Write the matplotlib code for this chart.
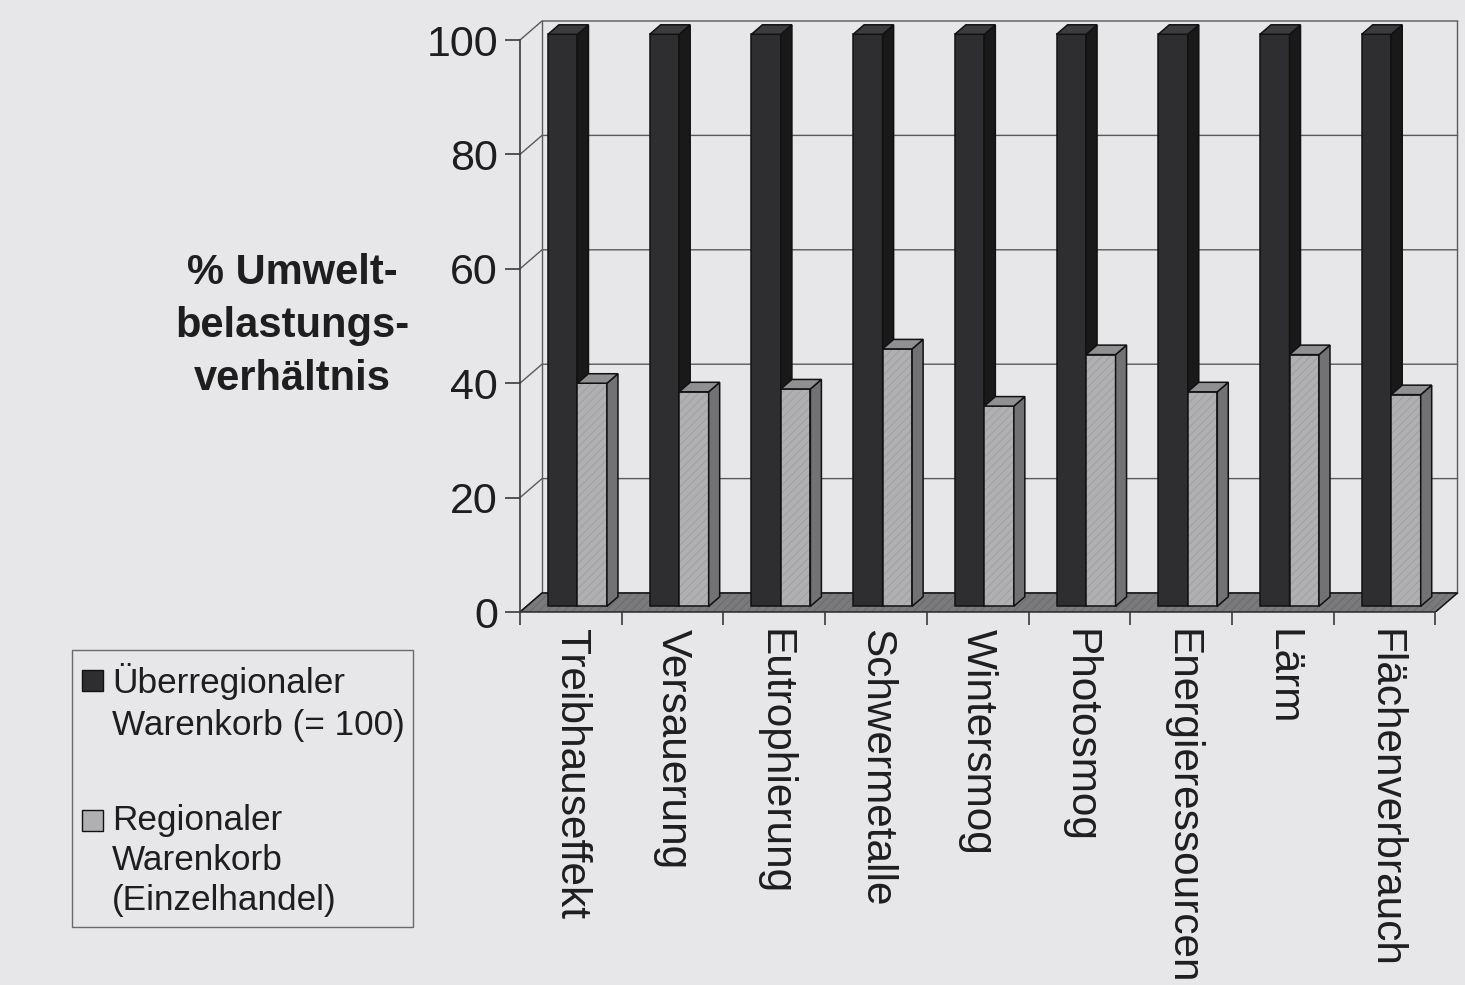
import matplotlib
matplotlib.use("Agg")
import matplotlib.pyplot as plt
from matplotlib.patches import Polygon, Rectangle

plt.rcParams['font.family'] = ['Liberation Sans', 'DejaVu Sans']
plt.rcParams['hatch.linewidth'] = 0.7

# ---- data -------------------------------------------------------------
categories = ["Treibhauseffekt", "Versauerung", "Eutrophierung", "Schwermetalle",
              "Wintersmog", "Photosmog", "Energieressourcen", "Lärm",
              "Flächenverbrauch"]
ueberregional = [100, 100, 100, 100, 100, 100, 100, 100, 100]
regional = [39, 37.5, 38, 45, 35, 44, 37.5, 44, 37]
series_labels = ["Überregionaler\nWarenkorb (= 100)",
                 "Regionaler\nWarenkorb\n(Einzelhandel)"]
y_ticks = [0, 20, 40, 60, 80, 100]
y_title = "% Umwelt-\nbelastungs-\nverhältnis"

# ---- style ------------------------------------------------------------
BG = "#e7e7ea"
INK = "#1e1e1e"
GRID = "#5a5a5c"
DARK = dict(front="#2e2e30", side="#19191a", top="#3c3c3e")
LIGHT = dict(front="#b0b0b3", side="#727275", top="#909093")
FLOOR = "#7a7a7c"

W, H, DPI = 1465, 985, 100
fig = plt.figure(figsize=(W / DPI, H / DPI), dpi=DPI, facecolor=BG)

# axes: x in category units, y in value units
x0_px, y0_px = 520, 612
px_per_cat = 101.72
px_per_val = 5.72
xmax = (W - x0_px) / px_per_cat
ymax = 106
ax = fig.add_axes([x0_px / W, (H - y0_px) / H,
                   xmax * px_per_cat / W, ymax * px_per_val / H])
ax.set_xlim(0, xmax)
ax.set_ylim(0, ymax)
ax.set_facecolor("none")

# oblique depth direction (full depth of the floor)
DX = 22 / px_per_cat
DY = 19 / px_per_val
n = len(categories)


def P(x, y, z):
    return (x + z * DX, y + z * DY)


def face(pts, color, z, hatch=None, hatch_color=None):
    if hatch:
        ax.add_patch(Polygon(pts, closed=True, facecolor=color, edgecolor=hatch_color,
                             hatch=hatch, linewidth=0, zorder=z))
        ax.add_patch(Polygon(pts, closed=True, fill=False, edgecolor="#111111",
                             linewidth=1.1, zorder=z + 0.01))
    else:
        ax.add_patch(Polygon(pts, closed=True, facecolor=color, edgecolor="#111111",
                             linewidth=1.1, zorder=z))


# back wall and side wall gridlines
for v in y_ticks:
    ax.plot(*zip(P(0, v, 0), P(0, v, 1), P(n, v, 1)), color=GRID, lw=1.0, zorder=1)
ax.plot(*zip(P(0, 0, 1), P(0, 100, 1)), color=GRID, lw=1.0, zorder=1)
ax.plot(*zip(P(n, 0, 1), P(n, 100, 1)), color=GRID, lw=1.0, zorder=1)

# floor
face([P(0, 0, 0), P(n, 0, 0), P(n, 0, 1), P(0, 0, 1)], FLOOR, 2,
     hatch="////", hatch_color="#6b6b6d")

# bars
z_front, z_back = 0.3, 0.8
width = 0.29
zo = 3
for i in range(n):
    for k, (vals, col) in enumerate(((ueberregional, DARK), (regional, LIGHT))):
        v = vals[i]
        a = i + 0.5 - width + k * width
        b = a + width
        ht = "////" if col is LIGHT else None
        hc = "#a0a0a3" if col is LIGHT else None
        face([P(a, 0, z_front), P(b, 0, z_front), P(b, v, z_front), P(a, v, z_front)],
             col["front"], zo, hatch=ht, hatch_color=hc)
        face([P(b, 0, z_front), P(b, 0, z_back), P(b, v, z_back), P(b, v, z_front)],
             col["side"], zo + 0.1)
        face([P(a, v, z_front), P(b, v, z_front), P(b, v, z_back), P(a, v, z_back)],
             col["top"], zo + 0.1)
        zo += 1

# axes lines and ticks
for s in ("top", "right"):
    ax.spines[s].set_visible(False)
ax.spines["left"].set_bounds(0, 100)
ax.spines["bottom"].set_bounds(0, n)
for s in ("left", "bottom"):
    ax.spines[s].set_color("#3a3a3c")
    ax.spines[s].set_linewidth(1.2)

ax.set_yticks(y_ticks)
ax.set_yticklabels([str(t) for t in y_ticks])
ax.tick_params(axis="y", direction="out", length=10.8, width=1.2, color="#3a3a3c",
               pad=5, labelsize=31, labelcolor=INK)

ax.set_xticks(range(n + 1))
ax.set_xticklabels([""] * (n + 1))
ax.set_xticks([i + 0.5 for i in range(n)], minor=True)
ax.set_xticklabels(categories, minor=True, rotation=-90, ha="center", va="top")
ax.tick_params(axis="x", which="major", direction="out", length=9.5, width=1.2,
               color="#3a3a3c")
ax.tick_params(axis="x", which="minor", length=0, pad=12, labelsize=30.5,
               labelcolor=INK)

# y-axis title
fig.text(292 / W, 1 - 326 / H, y_title, ha="center", va="center",
         fontsize=30, fontweight="bold", color=INK, linespacing=1.42)

# legend box
fig.patches.append(Rectangle((72 / W, 1 - 927 / H), (413 - 72) / W, (927 - 650) / H,
                             transform=fig.transFigure, facecolor="none",
                             edgecolor="#6a6a6c", linewidth=1.0))
legend_rows = [(670, DARK["front"], [693, 735]), (810, LIGHT["front"], [830, 870, 910])]
for (top_px, col, baselines), label in zip(legend_rows, series_labels):
    fig.patches.append(Rectangle((82 / W, 1 - (top_px + 21) / H), 21 / W, 21 / H,
                                 transform=fig.transFigure, facecolor=col,
                                 edgecolor="#111111", linewidth=1.0))
    for line, bl in zip(label.split("\n"), baselines):
        fig.text(112 / W, 1 - bl / H, line, ha="left", va="baseline",
                 fontsize=25.3, color=INK)

fig.savefig("out.png", dpi=DPI, facecolor=BG)
